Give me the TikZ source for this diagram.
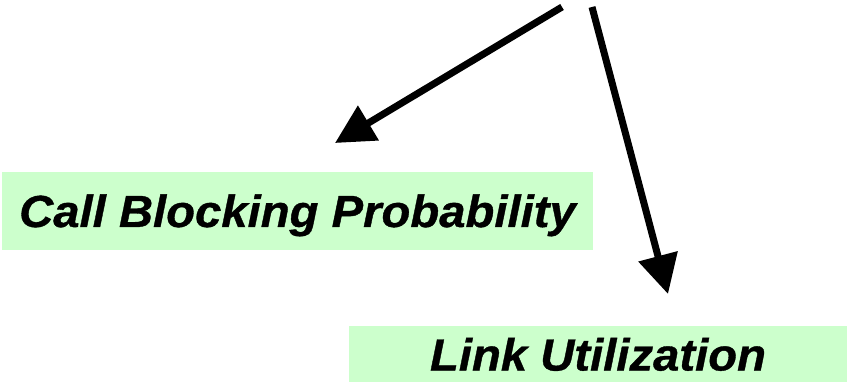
\documentclass[tikz,border=0pt]{standalone}
\usepackage{fontspec}
\setmainfont{Liberation Sans}[FakeStretch=1.05,FakeBold=0.8]
\usepackage{xcolor}
\usetikzlibrary{arrows.meta}
\tikzset{>={Triangle[length=39pt,width=39pt]}}
\definecolor{boxgrn}{HTML}{CCFFCC}
\tikzset{
  result/.style={fill=boxgrn,inner sep=0pt,text height=32pt,text depth=0pt,
    font=\fontsize{45}{48}\selectfont\bfseries\itshape},
  fatarrow/.style={->,line width=7pt}
}

\begin{document}
\begin{tikzpicture}[x=1pt,y=-1pt]
\useasboundingbox (0,0) rectangle (847,382);
% result boxes
\node[result,minimum width=591pt,minimum height=78pt] (blocking) at (297.5,211) {Call Blocking Probability};
\node[result,minimum width=498pt,minimum height=57pt] (util) at (598,354.5) {Link Utilization};
% arrows
\coordinate (srcA) at (562,7);
\coordinate (endA) at (335,143);
\coordinate (srcB) at (592,7);
\coordinate (endB) at (668,294);
\draw[fatarrow] (srcA) -- (endA);
\draw[fatarrow] (srcB) -- (endB);
\end{tikzpicture}
\end{document}
